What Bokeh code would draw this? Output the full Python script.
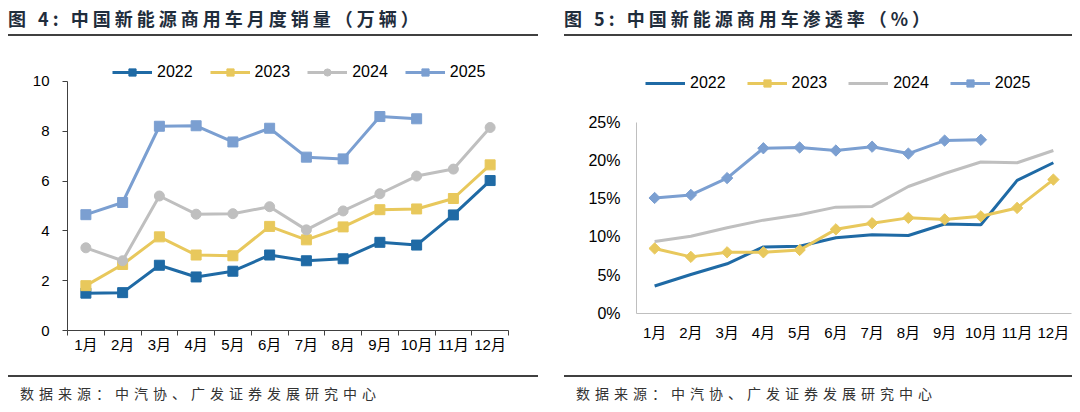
from bokeh.plotting import figure
from bokeh.models import (FixedTicker, Legend, LegendItem, Div, Spacer,
                          PrintfTickFormatter, Range1d)
from bokeh.layouts import row, column
from bokeh.embed import file_html
from bokeh.resources import INLINE

# ---------------- data ----------------
months = ["1月", "2月", "3月", "4月", "5月", "6月", "7月", "8月", "9月", "10月", "11月", "12月"]
years = ["2022", "2023", "2024", "2025"]

# 图4: 中国新能源商用车月度销量（万辆）
sales_2022 = [1.50, 1.52, 2.62, 2.15, 2.38, 3.03, 2.80, 2.88, 3.54, 3.43, 4.64, 6.02]
sales_2023 = [1.80, 2.65, 3.76, 3.03, 3.00, 4.18, 3.64, 4.16, 4.85, 4.88, 5.30, 6.65]
sales_2024 = [3.32, 2.80, 5.40, 4.67, 4.69, 4.97, 4.04, 4.80, 5.49, 6.20, 6.48, 8.15]
sales_2025 = [4.65, 5.14, 8.20, 8.22, 7.57, 8.12, 6.96, 6.89, 8.59, 8.50]

# 图5: 中国新能源商用车渗透率（%）
pen_2022 = [3.6, 5.1, 6.5, 8.7, 8.8, 9.9, 10.3, 10.2, 11.7, 11.6, 17.4, 19.7]
pen_2023 = [8.5, 7.4, 8.0, 8.0, 8.3, 11.0, 11.8, 12.5, 12.3, 12.7, 13.8, 17.5]
pen_2024 = [9.4, 10.1, 11.2, 12.2, 12.9, 13.9, 14.0, 16.6, 18.3, 19.8, 19.7, 21.3]
pen_2025 = [15.1, 15.5, 17.7, 21.6, 21.7, 21.3, 21.8, 20.9, 22.6, 22.7]

sales_ticks = [0, 2, 4, 6, 8, 10]
pen_ticks = [0, 5, 10, 15, 20, 25]

title_left = "图 4: 中国新能源商用车月度销量（万辆）"
title_right = "图 5: 中国新能源商用车渗透率（%）"
source_text = "数据来源：中汽协、广发证券发展研究中心"

sales = dict(zip(years, [sales_2022, sales_2023, sales_2024, sales_2025]))
pens = dict(zip(years, [pen_2022, pen_2023, pen_2024, pen_2025]))

COLORS = {"2022": "#1f6aa5", "2023": "#e8c85c", "2024": "#bfbfbf", "2025": "#7b9fd1"}
TICK_FONT = "Liberation Sans, 'Noto Sans CJK SC'"
xs_all = list(range(1, len(months) + 1))
overrides = {i: m for i, m in zip(xs_all, months)}


def title_div(txt, w):
    html = ('<div style="width:%dpx;height:26px;border-bottom:2px solid #404040;'
            'font-family:\'Noto Sans CJK SC\',\'Liberation Sans\';font-weight:bold;'
            'font-size:18px;letter-spacing:4px;color:#1f2d3c;line-height:21px;'
            'white-space:pre;box-sizing:content-box;">%s</div>') % (w, txt)
    return Div(text=html, width=w, height=29, margin=(0, 0, 0, 0))


def source_div(w):
    html = ('<div style="width:%dpx;margin-top:5px;border-top:2px solid #404040;'
            'padding-top:7px;padding-left:12px;box-sizing:border-box;'
            'font-family:\'Noto Sans CJK SC\';font-size:14px;letter-spacing:5px;'
            'color:#333333;line-height:18px;">%s</div>') % (w, source_text)
    return Div(text=html, width=w, height=34, margin=(0, 0, 0, 0))


# ---------------- left chart ----------------
# frame extends above the 10 tick to leave room for the legend (axis bounded to 0-10)
pl = figure(width=530, height=333, output_backend="svg", toolbar_location=None,
            x_range=Range1d(0.5, 12.5), y_range=Range1d(0, 10.84),
            min_border_left=59, min_border_right=30, min_border_top=23,
            min_border_bottom=40, margin=(0, 0, 0, 0))
pl.outline_line_color = None
pl.xgrid.visible = False
pl.ygrid.visible = False

items = []
markers_l = {"2022": "square", "2023": "square", "2024": "circle", "2025": "square"}
for yr in years:
    vals = sales[yr]
    xv = xs_all[:len(vals)]
    lr = pl.line(xv, vals, line_color=COLORS[yr], line_width=3)
    sr = pl.scatter(xv, vals, marker=markers_l[yr], size=10, fill_color=COLORS[yr],
                    line_color=COLORS[yr])
    items.append(LegendItem(label=yr, renderers=[lr, sr]))

leg = Legend(items=items, orientation="horizontal", location=(45, 249),
             border_line_color=None, background_fill_alpha=0, padding=0, margin=0,
             spacing=17, label_standoff=5, glyph_width=40, glyph_height=18,
             label_height=18,
             label_text_font_size="16px", label_text_font="Liberation Sans",
             label_text_color="#000000")
pl.add_layout(leg)

ax = pl.xaxis[0]
ax.ticker = FixedTicker(ticks=xs_all, minor_ticks=[x - 0.5 for x in xs_all] + [12.5])
ax.major_label_overrides = overrides
ax.major_tick_line_color = None
ax.major_tick_out = 0
ax.major_tick_in = 0
ax.minor_tick_line_color = "#404040"
ax.minor_tick_out = 5
ax.minor_tick_in = 0
ax.axis_line_color = "#404040"
ax.major_label_standoff = 0
ax.major_label_text_font = TICK_FONT
ax.major_label_text_font_size = "15px"
ax.major_label_text_color = "#000000"

ay = pl.yaxis[0]
ay.ticker = FixedTicker(ticks=sales_ticks)
ay.bounds = (sales_ticks[0], sales_ticks[-1])
ay.major_tick_line_color = "#404040"
ay.major_tick_out = 5
ay.major_tick_in = 0
ay.minor_tick_line_color = None
ay.axis_line_color = "#404040"
ay.major_label_standoff = 13
ay.major_label_text_font = TICK_FONT
ay.major_label_text_font_size = "15px"
ay.major_label_text_color = "#000000"

# ---------------- right chart ----------------
pr = figure(width=508, height=333, output_backend="svg", toolbar_location=None,
            x_range=Range1d(0.5, 12.5), y_range=Range1d(0, 31.76),
            min_border_left=72, min_border_right=1, min_border_top=33,
            min_border_bottom=57, margin=(0, 0, 0, 0))
pr.outline_line_color = None
pr.xgrid.visible = False
pr.ygrid.visible = False

items_r = []
for yr in years:
    vals = pens[yr]
    xv = xs_all[:len(vals)]
    lr = pr.line(xv, vals, line_color=COLORS[yr], line_width=3)
    rends = [lr]
    if yr in ("2023", "2025"):
        sr = pr.scatter(xv, vals, marker="square", angle=0.785398, size=8,
                        fill_color=COLORS[yr], line_color=COLORS[yr])
        rends.append(sr)
    items_r.append(LegendItem(label=yr, renderers=rends))

leg_r = Legend(items=items_r, orientation="horizontal", location=(9, 221),
               border_line_color=None, background_fill_alpha=0, padding=0, margin=0,
               spacing=21, label_standoff=5, glyph_width=40, glyph_height=18,
               label_height=18,
               label_text_font_size="16px", label_text_font="Liberation Sans",
               label_text_color="#000000")
pr.add_layout(leg_r)

bx = pr.xaxis[0]
bx.ticker = FixedTicker(ticks=xs_all)
bx.major_label_overrides = overrides
bx.major_tick_line_color = None
bx.major_tick_out = 0
bx.major_tick_in = 0
bx.minor_tick_line_color = None
bx.axis_line_color = "#bfbfbf"
bx.major_label_standoff = 10
bx.major_label_text_font = TICK_FONT
bx.major_label_text_font_size = "15px"
bx.major_label_text_color = "#000000"

by = pr.yaxis[0]
by.ticker = FixedTicker(ticks=pen_ticks)
by.bounds = (pen_ticks[0], pen_ticks[-1])
by.formatter = PrintfTickFormatter(format="%d%%")
by.major_tick_line_color = None
by.major_tick_out = 0
by.major_tick_in = 0
by.minor_tick_line_color = None
by.axis_line_color = "#bfbfbf"
by.major_label_standoff = 16
by.major_label_text_font = TICK_FONT
by.major_label_text_font_size = "16px"
by.major_label_text_color = "#000000"

left = column(title_div(title_left, 530), pl, source_div(530), spacing=0,
              margin=(0, 0, 0, 0))
right = column(title_div(title_right, 508), pr, source_div(508), spacing=0,
               margin=(0, 0, 0, 0))
layout = row(left, Spacer(width=26, height=10, margin=(0, 0, 0, 0)), right,
             spacing=0, margin=(8, 0, 0, 8))

open("out.html", "w").write(file_html(layout, INLINE))
